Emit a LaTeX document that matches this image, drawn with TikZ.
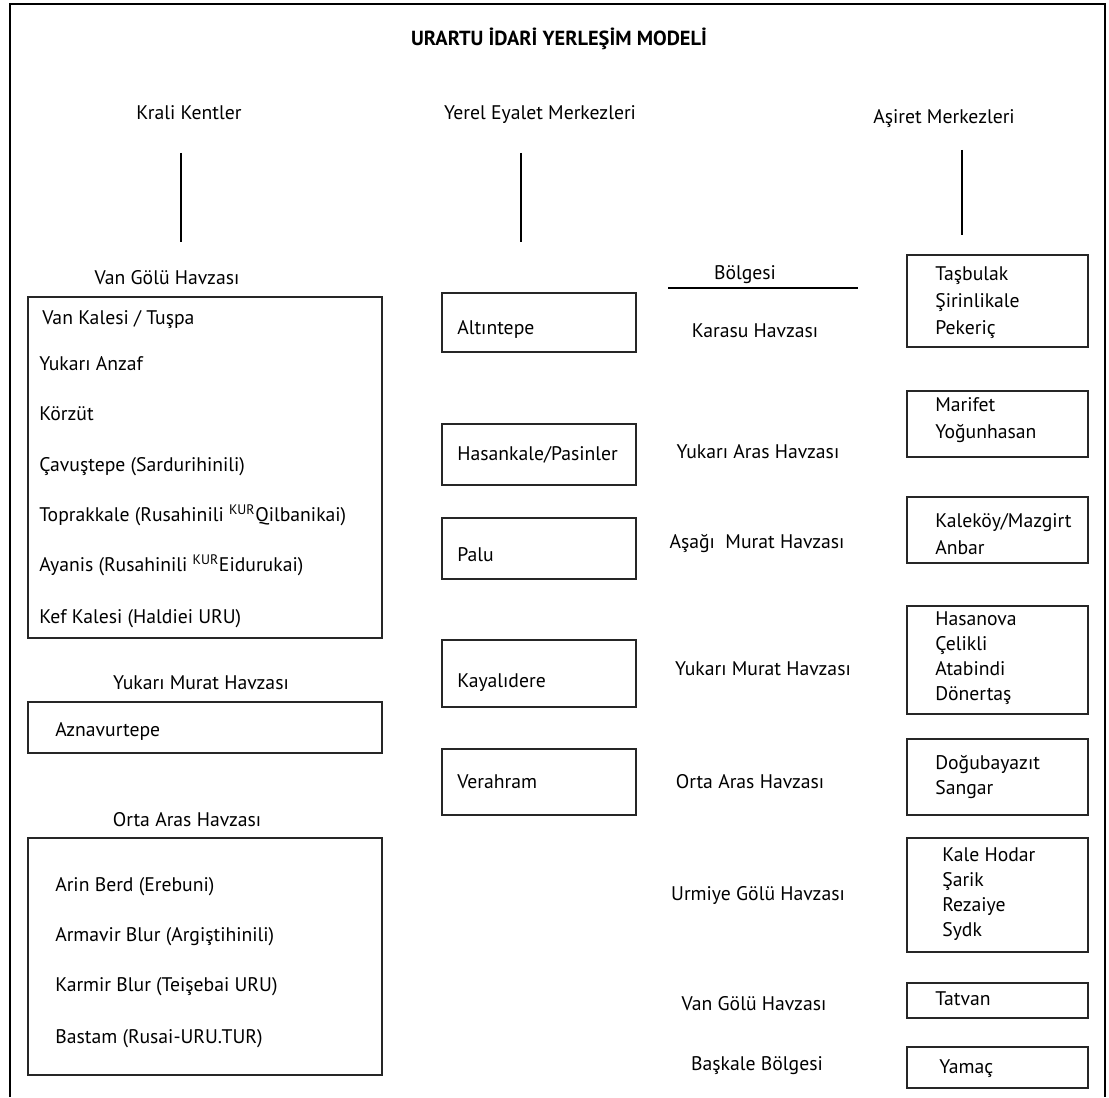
\documentclass[tikz,border=0pt]{standalone}
\usepackage{fontspec}
\setmainfont{PT Sans}
\usetikzlibrary{positioning,fit,calc}

\begin{document}
\begin{tikzpicture}[
    x=0.025cm, y=-0.025cm,
    font=\fontsize{14}{16}\selectfont,
    txt/.style={inner sep=0pt, text height=9.8pt, text depth=0pt},
    lst/.style={inner sep=0pt, align=left, font=\fontsize{14}{#1}\selectfont},
    box/.style={draw=black!85, line width=1.25pt, inner sep=0pt},
    stem/.style={draw=black, line width=1.4pt},
    frame/.style={draw=black, line width=1.7pt}
]
\useasboundingbox (0,0) rectangle (1109,1097);

% outer frame
\coordinate (fbl) at (10,1097);
\coordinate (ftl) at (10,4);
\coordinate (ftr) at (1105,4);
\coordinate (fbr) at (1105,1097);
\draw[frame] (fbl) -- (ftl) -- (ftr) -- (fbr);

% title and column heads
\node[txt, font=\fontsize{14.5}{16}\selectfont\bfseries, text height=10.2pt] (title) at (559,38) {URARTU İDARİ YERLEŞİM MODELİ};
\node[txt] (krali) at (189,113) {Krali Kentler};
\node[txt] (yerel) at (540,113) {Yerel Eyalet Merkezleri};
\node[txt] (asiret) at (944,117) {Aşiret Merkezleri};
\coordinate (kk1) at (181,153);
\coordinate (kk2) at (181,242);
\coordinate (ye1) at (521,153);
\coordinate (ye2) at (521,242);
\coordinate (as1) at (962,150);
\coordinate (as2) at (962,235);
\draw[stem] (kk1) -- (kk2);
\draw[stem] (ye1) -- (ye2);
\draw[stem] (as1) -- (as2);

% krali kentler
\node[txt] (vgl) at (167,278) {Van Gölü Havzası};
\node[box, fit={(28,297) (382,638)}] (vgbox) {};
\node[txt, anchor=west] (vg1) at (42,318) {Van Kalesi / Tuşpa};
\node[txt, anchor=west] (vg2) at (39,364) {Yukarı Anzaf};
\node[txt, anchor=west] (vg3) at (39,414) {Körzüt};
\node[txt, anchor=west] (vg4) at (39,465) {Çavuştepe (Sardurihinili)};
\node[txt, anchor=west] (vg5) at (39,515) {Toprakkale (Rusahinili \textsuperscript{KUR}Qilbanikai)};
\node[txt, anchor=west] (vg6) at (39,565) {Ayanis (Rusahinili \textsuperscript{KUR}Eidurukai)};
\node[txt, anchor=west] (vg7) at (39,617) {Kef Kalesi (Haldiei URU)};

\node[txt] (yml) at (201,683) {Yukarı Murat Havzası};
\node[box, fit={(28,702) (382,753)}] (ymbox) {};
\node[txt, anchor=west] (ym1) at (55,730) {Aznavurtepe};

\node[txt] (oal) at (187,820) {Orta Aras Havzası};
\node[box, fit={(28,838) (382,1075)}] (oabox) {};
\node[txt, anchor=west] (oa1) at (55,885) {Arin Berd (Erebuni)};
\node[txt, anchor=west] (oa2) at (55,935) {Armavir Blur (Argiştihinili)};
\node[txt, anchor=west] (oa3) at (55,985) {Karmir Blur (Teişebai URU)};
\node[txt, anchor=west] (oa4) at (55,1037) {Bastam (Rusai-URU.TUR)};

% yerel eyalet merkezleri
\node[box, fit={(442,293) (636,352)}] (altbox) {};
\node[txt, anchor=west] (alt) at (457,328) {Altıntepe};
\node[box, fit={(442,424) (636,485)}] (hskbox) {};
\node[txt, anchor=west] (hsk) at (457,454) {Hasankale/Pasinler};
\node[box, fit={(442,518) (636,579)}] (palbox) {};
\node[txt, anchor=west] (pal) at (457,555) {Palu};
\node[box, fit={(442,640) (636,707)}] (kaybox) {};
\node[txt, anchor=west] (kay) at (457,681) {Kayalıdere};
\node[box, fit={(442,749) (636,815)}] (verbox) {};
\node[txt, anchor=west] (ver) at (457,782) {Verahram};

% bolgeler
\node[txt] (bolge) at (745,273) {Bölgesi};
\coordinate (bl1) at (668,288);
\coordinate (bl2) at (858,288);
\draw[line width=1.1pt] (bl1) -- (bl2);
\node[txt] (r1) at (755,331) {Karasu Havzası};
\node[txt] (r2) at (758,452) {Yukarı Aras Havzası};
\node[txt] (r3) at (757,542) {Aşağı\ \ Murat Havzası};
\node[txt] (r4) at (763,669) {Yukarı Murat Havzası};
\node[txt] (r5) at (750,782) {Orta Aras Havzası};
\node[txt] (r6) at (758,894) {Urmiye Gölü Havzası};
\node[txt] (r7) at (754,1004) {Van Gölü Havzası};
\node[txt] (r8) at (757,1064) {Başkale Bölgesi};

% asiret merkezleri
\node[box, fit={(907,255) (1088,347)}] (tasbox) {};
\node[lst=19.2pt, anchor=west] (tas) at (935,303) {Taşbulak\\Şirinlikale\\Pekeriç};
\node[box, fit={(907,391) (1088,457)}] (marbox) {};
\node[lst=19.2pt, anchor=west] (mar) at (935,420) {Marifet\\Yoğunhasan};
\node[box, fit={(907,497) (1088,563)}] (kalbox) {};
\node[lst=19.2pt, anchor=west] (kal) at (935,534) {Kaleköy/Mazgirt\\Anbar};
\node[box, fit={(907,606) (1088,714)}] (hasbox) {};
\node[lst=17.8pt, anchor=west] (has) at (935,658) {Hasanova\\Çelikli\\Atabindi\\Dönertaş};
\node[box, fit={(907,739) (1088,815)}] (dogbox) {};
\node[lst=17.8pt, anchor=west] (dog) at (935,777) {Doğubayazıt\\Sangar};
\node[box, fit={(907,838) (1088,952)}] (khobox) {};
\node[lst=17.8pt, anchor=west] (kho) at (942,894) {Kale Hodar\\Şarik\\Rezaiye\\Sydk};
\node[box, fit={(907,983) (1088,1018)}] (tatbox) {};
\node[txt, anchor=west] (tat) at (935,999) {Tatvan};
\node[box, fit={(907,1047) (1088,1088)}] (yambox) {};
\node[txt, anchor=west] (yam) at (939,1067) {Yamaç};
\end{tikzpicture}
\end{document}
